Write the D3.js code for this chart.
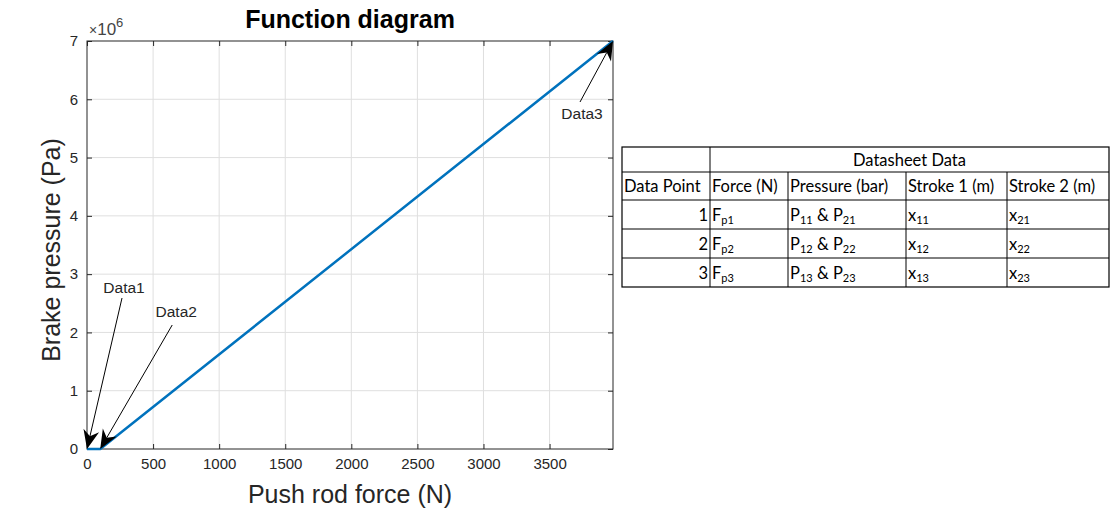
<!DOCTYPE html>
<html>
<head>
<meta charset="utf-8">
<script src="https://cdn.jsdelivr.net/npm/d3@7"></script>
<style>
  body { margin: 0; background: #fff; }
  svg { display: block; }
</style>
</head>
<body>
<script>
//// Data ////
const forceN = [0, 100, 3980]
const pressurePa = [0, 0, 7e6]
const xTicks = [0, 500, 1000, 1500, 2000, 2500, 3000, 3500]
const yTicks = [0, 1, 2, 3, 4, 5, 6, 7]

const annotNames = ["Data1", "Data2", "Data3"]
const annotForce = [0, 100, 3980]
const annotPressure = [0, 0, 7e6]

// table
const tableGroup = "Datasheet Data"
const tableHeader = ["Data Point", "Force (N)", "Pressure (bar)", "Stroke 1 (m)", "Stroke 2 (m)"]
const tablePoints = ["1", "2", "3"]
const tableForce = [["F", "p1"], ["F", "p2"], ["F", "p3"]]
const tablePress = [["P", "11", " & P", "21"], ["P", "12", " & P", "22"], ["P", "13", " & P", "23"]]
const tableStroke1 = [["x", "11"], ["x", "12"], ["x", "13"]]
const tableStroke2 = [["x", "21"], ["x", "22"], ["x", "23"]]

//// Layout ////
const WIDTH = 1110, HEIGHT = 510
const m = { left: 87, right: 613, top: 41, bottom: 449 }
const FONT = "'Liberation Sans', Arial, Helvetica, sans-serif"
const AXIS_COLOR = "#262626"
const LINE_COLOR = "#0072BD"

const svg = d3.select("body").append("svg")
  .attr("width", WIDTH).attr("height", HEIGHT)

const x = d3.scaleLinear().domain([0, 3980]).range([m.left, m.right])
const y = d3.scaleLinear().domain([0, 7e6]).range([m.bottom, m.top])

// grid
const grid = svg.append("g")
grid.selectAll(".gx").data(xTicks.slice(1)).join("line")
  .attr("x1", d => x(d)).attr("x2", d => x(d))
  .attr("y1", m.top).attr("y2", m.bottom)
  .attr("stroke", "#dfdfdf").attr("stroke-width", 1)
grid.selectAll(".gy").data(yTicks.slice(1, -1)).join("line")
  .attr("x1", m.left).attr("x2", m.right)
  .attr("y1", d => y(d * 1e6)).attr("y2", d => y(d * 1e6))
  .attr("stroke", "#dfdfdf").attr("stroke-width", 1)

// axes (ticks inside, MATLAB style box)
const xAxis = d3.axisBottom(x).tickValues(xTicks).tickSize(-5).tickPadding(9).tickFormat(d3.format("d"))
const xAxisTop = d3.axisTop(x).tickValues(xTicks).tickSize(-5).tickFormat("")
const yAxis = d3.axisLeft(y).tickValues(yTicks.map(d => d * 1e6)).tickSize(-5).tickPadding(9)
  .tickFormat(d => d / 1e6)
const yAxisRight = d3.axisRight(y).tickValues(yTicks.map(d => d * 1e6)).tickSize(-5).tickFormat("")

function styleAxis(g) {
  g.selectAll("path").attr("stroke", AXIS_COLOR).attr("stroke-width", 1)
  g.selectAll("line").attr("stroke", AXIS_COLOR)
  g.selectAll("text").attr("fill", AXIS_COLOR).style("font-family", FONT).style("font-size", "15px")
}

svg.append("g").attr("transform", `translate(0,${m.bottom})`).call(xAxis).call(styleAxis)
svg.append("g").attr("transform", `translate(0,${m.top})`).call(xAxisTop).call(styleAxis)
svg.append("g").attr("transform", `translate(${m.left},0)`).call(yAxis).call(styleAxis)
svg.append("g").attr("transform", `translate(${m.right},0)`).call(yAxisRight).call(styleAxis)
svg.selectAll(".domain").attr("d", null)
svg.append("rect")
  .attr("x", m.left).attr("y", m.top)
  .attr("width", m.right - m.left).attr("height", m.bottom - m.top)
  .attr("fill", "none").attr("stroke", AXIS_COLOR).attr("stroke-width", 1)

// exponent label
const expo = svg.append("text")
  .attr("x", m.left + 2).attr("y", m.top - 6)
  .attr("fill", "#444").style("font-family", FONT).style("font-size", "17px")
expo.append("tspan").style("font-size", "14px").text("\u00d7")
expo.append("tspan").text("10")
expo.append("tspan").attr("dy", -8).style("font-size", "13px").text("6")

// curve
const lineGen = d3.line().x(d => x(d[0])).y(d => y(d[1]))
svg.append("path")
  .datum(forceN.map((f, i) => [f, pressurePa[i]]))
  .attr("d", lineGen)
  .attr("fill", "none").attr("stroke", LINE_COLOR).attr("stroke-width", 2.5)
  .attr("stroke-linejoin", "round")

// annotations: text position offsets (px) relative to the tip
const annotText = [[37, -160], [76, -136], [-31, 74]]
const annotTail = [[35, -151], [72, -124], [-33, 61]]

function arrow(g, x0, y0, x1, y1) {
  const ang = Math.atan2(y1 - y0, x1 - x0)
  const L = 19, W = 8, back = 13
  const ca = Math.cos(ang), sa = Math.sin(ang)
  const pt = (a, b) => [x1 - a * ca + b * sa, y1 - a * sa - b * ca]
  const shaftEnd = pt(back, 0)
  g.append("line")
    .attr("x1", x0).attr("y1", y0).attr("x2", shaftEnd[0]).attr("y2", shaftEnd[1])
    .attr("stroke", "#000").attr("stroke-width", 1)
  const p = [[x1, y1], pt(L, W), pt(back, 0), pt(L, -W)]
  g.append("path").attr("d", "M" + p.map(q => q.join(",")).join("L") + "Z")
    .attr("fill", "#000")
}

const ann = svg.append("g")
annotNames.forEach((name, i) => {
  const tx = x(annotForce[i]), ty = y(annotPressure[i])
  arrow(ann, tx + annotTail[i][0], ty + annotTail[i][1], tx, ty)
  ann.append("text")
    .attr("x", tx + annotText[i][0]).attr("y", ty + annotText[i][1])
    .attr("text-anchor", "middle").attr("dominant-baseline", "middle")
    .attr("fill", AXIS_COLOR).style("font-family", FONT).style("font-size", "15.5px")
    .text(name)
})

// titles
svg.append("text")
  .attr("x", (m.left + m.right) / 2).attr("y", 28)
  .attr("text-anchor", "middle")
  .style("font-family", FONT).style("font-size", "25px").style("font-weight", "bold")
  .attr("fill", "#000")
  .text("Function diagram")
svg.append("text")
  .attr("x", (m.left + m.right) / 2).attr("y", 503)
  .attr("text-anchor", "middle")
  .style("font-family", FONT).style("font-size", "25px")
  .attr("fill", AXIS_COLOR)
  .text("Push rod force (N)")
svg.append("text")
  .attr("transform", `translate(60,${(m.top + m.bottom) / 2 + 5}) rotate(-90)`)
  .attr("text-anchor", "middle")
  .style("font-family", FONT).style("font-size", "25px")
  .attr("fill", AXIS_COLOR)
  .text("Brake pressure (Pa)")

//// Table ////
const TFONT = "Lato, 'Open Sans', sans-serif"
const colX = [622, 710, 788, 906, 1007, 1109]
const rowY = [147, 172, 200, 229, 258, 287]
const tbl = svg.append("g")

// outer border + lines
tbl.append("rect")
  .attr("x", colX[0]).attr("y", rowY[0])
  .attr("width", colX[5] - colX[0]).attr("height", rowY[5] - rowY[0])
  .attr("fill", "none").attr("stroke", "#000").attr("stroke-width", 1.2)
rowY.slice(1, -1).forEach(ry => {
  tbl.append("line").attr("x1", colX[0]).attr("x2", colX[5]).attr("y1", ry).attr("y2", ry)
    .attr("stroke", "#000").attr("stroke-width", 1)
})
colX.slice(1, -1).forEach((cx, i) => {
  tbl.append("line").attr("x1", cx).attr("x2", cx)
    .attr("y1", i === 0 ? rowY[0] : rowY[1]).attr("y2", rowY[5])
    .attr("stroke", "#000").attr("stroke-width", 1)
})

function cellText(x0, y0, parts, anchor) {
  const t = tbl.append("text").attr("x", x0).attr("y", y0)
    .attr("text-anchor", anchor || "start")
    .style("font-family", TFONT).style("font-size", "16.5px").attr("fill", "#000")
  parts.forEach((p, k) => {
    if (k % 2 === 0) t.append("tspan").text(p)
    else t.append("tspan").attr("baseline-shift", "-3").style("font-size", "11px").text(p)
  })
  return t
}

cellText((colX[1] + colX[5]) / 2, rowY[0] + 19, [tableGroup], "middle")
tableHeader.forEach((h, j) => {
  cellText(colX[j] + 2, rowY[1] + 20, [h])
})
tablePoints.forEach((pnt, i) => {
  const by = rowY[i + 2] + 21
  cellText(colX[1] - 2, by, [pnt], "end")
  cellText(colX[1] + 2, by, tableForce[i])
  cellText(colX[2] + 2, by, tablePress[i])
  cellText(colX[3] + 2, by, tableStroke1[i])
  cellText(colX[4] + 2, by, tableStroke2[i])
})
</script>
</body>
</html>
